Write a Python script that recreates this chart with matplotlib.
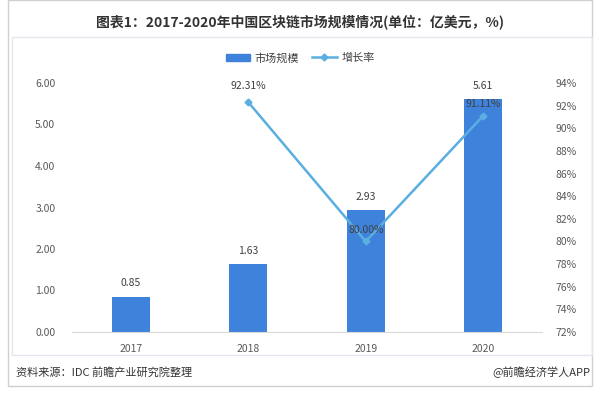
import matplotlib.pyplot as plt
from matplotlib.patches import Rectangle
from matplotlib.lines import Line2D

plt.rcParams['font.family'] = ['Noto Sans CJK SC', 'DejaVu Sans']

years = ["2017", "2018", "2019", "2020"]
market_size = [0.85, 1.63, 2.93, 5.61]
growth_years = ["2018", "2019", "2020"]
growth_rate = [92.31, 80.00, 91.11]

title = "图表1：2017-2020年中国区块链市场规模情况(单位：亿美元，%)"
source = "资料来源：IDC 前瞻产业研究院整理"
credit = "@前瞻经济学人APP"

bar_color = "#3F82DB"
line_color = "#5AAEE0"
text_color = "#404040"

fig = plt.figure(figsize=(6.0, 3.98), dpi=100)
W, H = 600, 398

# outer frame and inner chart panel
fig.patches.append(Rectangle((8 / W, 1 - 386 / H), 584 / W, 386 / H, transform=fig.transFigure,
                             fill=False, edgecolor="#d0d0d0", linewidth=1))
fig.patches.append(Rectangle((12 / W, 1 - 355 / H), 580 / W, 318 / H, transform=fig.transFigure,
                             fill=False, edgecolor="#e4e8ee", linewidth=1))

ax = fig.add_axes([72 / W, 1 - 332 / H, 470 / W, 249 / H])
x = list(range(len(years)))
bars = ax.bar(x, market_size, width=0.32, color=bar_color, zorder=2)
ax.set_xlim(-0.5, 3.5)
ax.set_ylim(0, 6)
ax.set_yticks([0, 1, 2, 3, 4, 5, 6])
ax.set_yticklabels([f"{v:.2f}" for v in range(7)])
ax.set_xticks(x)
ax.set_xticklabels(years)
for s in ["top", "right", "left"]:
    ax.spines[s].set_visible(False)
ax.spines["bottom"].set_color("#d9d9d9")
ax.tick_params(axis="both", length=0, labelsize=7.5, colors="#595959")
ax.tick_params(axis="y", pad=12)
ax.tick_params(axis="x", pad=9)
for i, v in enumerate(market_size):
    ax.annotate(f"{v:.2f}", (i, v), xytext=(0, 6), textcoords="offset points",
                ha="center", va="bottom", fontsize=7.5, color=text_color)

ax2 = ax.twinx()
gx = [years.index(y) for y in growth_years]
ax2.plot(gx, growth_rate, color=line_color, linewidth=1.8, marker="D", markersize=3.5, zorder=3)
ax2.set_ylim(72, 94)
ax2.set_yticks(range(72, 95, 2))
ax2.set_yticklabels([f"{v}%" for v in range(72, 95, 2)])
for s in ax2.spines.values():
    s.set_visible(False)
ax2.tick_params(axis="y", length=0, labelsize=7.5, colors="#595959", pad=10)
offsets = [(0, 8), (0, 5), (0, 5)]
for xi, v, off in zip(gx, growth_rate, offsets):
    ax2.annotate(f"{v:.2f}%", (xi, v), xytext=off, textcoords="offset points",
                 ha="center", va="bottom", fontsize=7.5, color=text_color)

fig.text(0.5, 1 - 22 / H, title, ha="center", va="center", fontsize=10,
         fontweight="bold", color="#333333")

handles = [Rectangle((0, 0), 1, 1, color=bar_color),
           Line2D([0], [0], color=line_color, linewidth=1.8, marker="D", markersize=3.5)]
fig.legend(handles, ["市场规模", "增长率"], loc="center", bbox_to_anchor=(0.5, 1 - 58 / H),
           ncol=2, frameon=False, fontsize=8, handlelength=2.2, columnspacing=1.2,
           handletextpad=0.4, labelcolor="#404040")

fig.text(16 / W, 1 - 372 / H, source, ha="left", va="center", fontsize=8, color="#333333")
fig.text(590 / W, 1 - 372 / H, credit, ha="right", va="center", fontsize=8, color="#333333")

fig.savefig("out.png", dpi=100)
